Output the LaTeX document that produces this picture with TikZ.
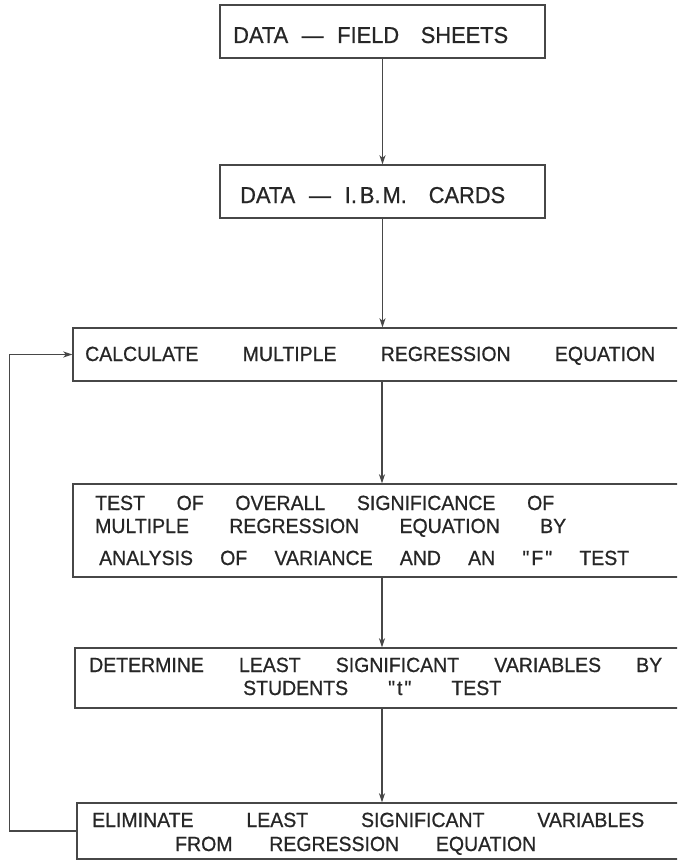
\documentclass[tikz,border=0pt]{standalone}
\usepackage{fontspec}
\setmainfont{Liberation Sans}[Ligatures=TeXOff, FakeStretch=0.95, FakeBold=0.7]
\usetikzlibrary{arrows.meta}
\begin{document}
\begin{tikzpicture}[x=1pt,y=-1pt,
  box/.style={draw=black!72, line width=1.4pt, inner sep=0pt, rectangle},
  flow/.style={draw=black!72, line width=1.2pt,
    -{Stealth[length=9pt,width=6pt,inset=2.5pt]}},
  lbl/.style={anchor=base west, inner sep=0pt, text=black!85},
  big/.style={lbl, font=\fontsize{23}{27}\selectfont},
  small/.style={lbl, font=\fontsize{20.5}{24}\selectfont}]
\useasboundingbox (0,0) rectangle (677,861);
\fill[white] (0,0) rectangle (677,861);
\clip (0,0) rectangle (677,861);

% process boxes (the lower ones run past the right margin)
\node[box, minimum width=325pt, minimum height=53pt] (b1) at (382.5,31.5) {};
\node[box, minimum width=325pt, minimum height=53pt] (b2) at (382.5,191.5) {};
\node[box, minimum width=618pt, minimum height=53pt] (b3) at (382,354.5) {};
\node[box, minimum width=618pt, minimum height=93pt] (b4) at (382,530.5) {};
\node[box, minimum width=614pt, minimum height=60pt] (b5) at (382,678) {};
\node[box, minimum width=610pt, minimum height=56pt] (b6) at (382,831) {};

% box texts
\node[big] (t1) at (233,43) {\makebox[275pt][s]{DATA — FIELD\hspace{8pt} SHEETS}};
\node[big] (t2) at (240,203) {\makebox[265pt][s]{DATA — I.\kern3pt B.\kern2pt M.\hspace{8pt} CARDS}};
\node[small] (t3) at (85,361) {\makebox[570pt][s]{CALCULATE MULTIPLE REGRESSION EQUATION}};
\node[small] (t4a) at (95,510) {\makebox[459pt][s]{TEST OF OVERALL SIGNIFICANCE OF}};
\node[small] (t4b) at (95,533) {\makebox[471pt][s]{MULTIPLE REGRESSION EQUATION BY}};
\node[small] (t4c) at (99,565) {\makebox[530pt][s]{ANALYSIS OF VARIANCE AND AN "\kern2pt F\kern2pt" TEST}};
\node[small] (t5a) at (89,672) {\makebox[573pt][s]{DETERMINE LEAST SIGNIFICANT VARIABLES BY}};
\node[small] (t5b) at (243,695) {\makebox[258pt][s]{STUDENTS "\kern2pt t\kern2pt" TEST}};
\node[small] (t6a) at (92,827) {\makebox[552pt][s]{ELIMINATE LEAST SIGNIFICANT VARIABLES}};
\node[small] (t6b) at (175,851) {\makebox[361pt][s]{FROM REGRESSION EQUATION}};

% flow
\draw[flow] (b1.south) -- (b2.north);
\draw[flow] (b2.south) -- (b2.south |- b3.north);
\draw[flow] (b3.south) -- (b3.south |- b4.north);
\draw[flow] (b4.south) -- (b4.south |- b5.north);
\draw[flow] (b5.south) -- (b5.south |- b6.north);
% repeat loop back to the regression step
\draw[flow] (b6.west) -- ++(-67,0) |- (b3.west);
\end{tikzpicture}
\end{document}
